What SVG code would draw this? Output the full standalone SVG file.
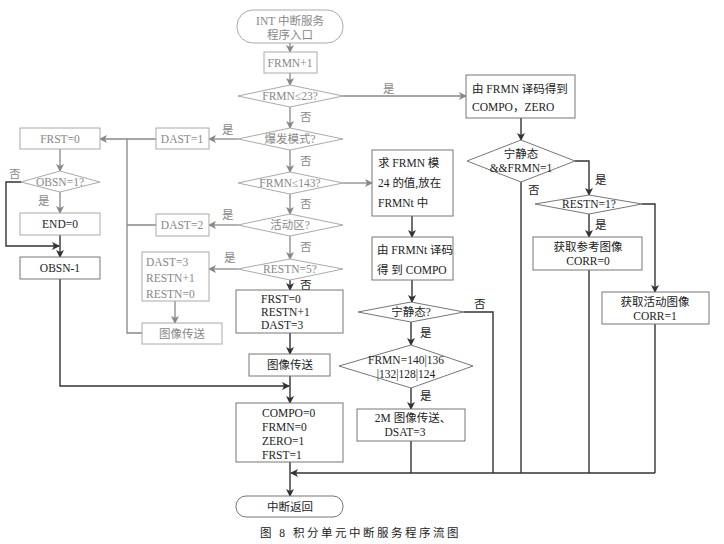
<svg xmlns="http://www.w3.org/2000/svg" width="724" height="544" viewBox="0 0 724 544">
<defs>
<marker id="ah" markerWidth="8" markerHeight="8" refX="7" refY="4" orient="auto" markerUnits="userSpaceOnUse"><path d="M0,0 L8,4 L0,8 L2,4 Z" fill="#333"/></marker>
<marker id="ahg" markerWidth="8" markerHeight="8" refX="7" refY="4" orient="auto" markerUnits="userSpaceOnUse"><path d="M0,0 L8,4 L0,8 L2,4 Z" fill="#888"/></marker>
<style>
.b{fill:#fff;stroke:#777;stroke-width:1}
.bg{fill:#fff;stroke:#aaa;stroke-width:1}
.t{font-family:"Liberation Serif","Noto Sans CJK SC",serif;font-size:11.5px;fill:#222}
.tg{font-family:"Liberation Serif","Noto Sans CJK SC",serif;font-size:11.5px;fill:#888}
.m{text-anchor:middle}
.l{fill:none;stroke:#333;stroke-width:1.4}
.lg{fill:none;stroke:#888;stroke-width:1.3}
.a{marker-end:url(#ah)}
.ag{marker-end:url(#ahg)}
</style>
</defs>
<rect width="724" height="544" fill="#fff"/>

<g id="connectors">
<path class="lg ag" d="M290,43 V52"/>
<path class="lg ag" d="M290,73 V85"/>
<path class="lg ag" d="M343,96 H466"/>
<path class="lg ag" d="M290,107 V128"/>
<path class="lg ag" d="M238,139 H209"/>
<path class="lg ag" d="M156,139 H100"/>
<path class="lg" d="M127,139 V333 H142 M127,225 H156"/>
<path class="lg ag" d="M290,150 V172"/>
<path class="lg ag" d="M343,183 H372"/>
<path class="lg ag" d="M290,194 V214"/>
<path class="lg ag" d="M238,225 H209"/>
<path class="lg ag" d="M290,236 V259"/>
<path class="lg ag" d="M238,269 H209"/>
<path class="lg ag" d="M175,301 V323"/>
<path class="l a" d="M290,280 V290"/>
<path class="l a" d="M290,333 V354"/>
<path class="l a" d="M290,376 V403"/>
<path class="l a" d="M290,462 V496"/>
<path class="lg ag" d="M60,149 V171"/>
<path class="lg ag" d="M60,192 V213"/>
<path class="l a" d="M21,182 H6 V246 H59"/>
<path class="l a" d="M60,235 V257"/>
<path class="l a" d="M60,279 V386 H289"/>
<path class="l a" d="M412,216 V237"/>
<path class="l a" d="M412,280 V302"/>
<path class="l" d="M464,312 H493 V473"/>
<path class="l a" d="M411,322 V345"/>
<path class="l a" d="M411,388 V409"/>
<path class="l" d="M411,441 V473"/>
<path class="l a" d="M521,118 V140"/>
<path class="l a" d="M575,161 H589 V195"/>
<path class="l" d="M521,182 V473"/>
<path class="l a" d="M642,204 H655 V292"/>
<path class="l a" d="M589,214 V237"/>
<path class="l" d="M589,270 V473"/>
<path class="l" d="M655,324 V473"/>
<path class="l a" d="M655,473 H291"/>
<text class="tg" x="383" y="93">是</text>
<text class="tg" x="300" y="121">否</text>
<text class="tg" x="222" y="134">是</text>
<text class="tg" x="300" y="165">否</text>
<text class="tg" x="300" y="208">否</text>
<text class="tg" x="222" y="219">是</text>
<text class="tg" x="300" y="251">否</text>
<text class="tg" x="224" y="262">是</text>
<text class="t" x="300" y="289">否</text>
<text class="tg" x="9" y="178">否</text>
<text class="tg" x="38" y="205">是</text>
<text class="t" x="474" y="308">否</text>
<text class="t" x="420" y="337">是</text>
<text class="t" x="420" y="400">是</text>
<text class="t" x="528" y="194">否</text>
<text class="t" x="595" y="184">是</text>
<text class="t" x="595" y="229">是</text>
</g>

<g id="start">
<rect class="bg" x="237" y="10" width="106" height="33" rx="16"/>
<text class="tg m" x="290" y="25">INT 中断服务</text>
<text class="tg m" x="290" y="39">程序入口</text>
</g>
<g id="frmn_inc">
<rect class="bg" x="264" y="52" width="53" height="21"/>
<text class="tg m" x="290" y="67">FRMN+1</text>
</g>
<g id="d_frmn23">
<polygon class="bg" points="238,96 290,85 343,96 290,107"/>
<text class="tg m" x="290" y="100">FRMN≤23?</text>
</g>
<g id="d_burst">
<polygon class="bg" points="238,139 290,128 343,139 290,150"/>
<text class="tg m" x="290" y="143">爆发模式?</text>
</g>
<g id="dast1">
<rect class="bg" x="156" y="128" width="53" height="21"/>
<text class="tg m" x="182" y="143">DAST=1</text>
</g>
<g id="frst0_left">
<rect class="bg" x="20" y="128" width="80" height="21"/>
<text class="tg m" x="60" y="143">FRST=0</text>
</g>
<g id="d_obsn">
<polygon class="bg" points="21,182 60,171 100,182 60,192"/>
<text class="tg m" x="60" y="186">OBSN=1?</text>
</g>
<g id="end0">
<rect class="bg" x="20" y="213" width="80" height="22"/>
<text class="t m" x="60" y="228">END=0</text>
</g>
<g id="obsn_dec">
<rect class="b" x="20" y="257" width="80" height="22"/>
<text class="t m" x="60" y="272">OBSN-1</text>
</g>
<g id="d_frmn143">
<polygon class="bg" points="238,183 290,172 343,183 290,194"/>
<text class="tg m" x="290" y="187">FRMN≤143?</text>
</g>
<g id="d_active">
<polygon class="bg" points="238,225 290,214 343,225 290,236"/>
<text class="tg m" x="290" y="229">活动区?</text>
</g>
<g id="dast2">
<rect class="bg" x="156" y="214" width="53" height="22"/>
<text class="tg m" x="182" y="229">DAST=2</text>
</g>
<g id="d_restn5">
<polygon class="bg" points="238,269 290,259 343,269 290,280"/>
<text class="tg m" x="290" y="273">RESTN=5?</text>
</g>
<g id="dast3_box">
<rect class="bg" x="142" y="252" width="67" height="49"/>
<text class="tg" x="146" y="266">DAST=3</text>
<text class="tg" x="146" y="282">RESTN+1</text>
<text class="tg" x="146" y="298">RESTN=0</text>
</g>
<g id="img_send_left">
<rect class="bg" x="142" y="323" width="80" height="21"/>
<text class="tg m" x="182" y="338">图像传送</text>
</g>
<g id="frst_restn_box">
<rect class="b" x="236" y="290" width="107" height="43"/>
<text class="t" x="261" y="303">FRST=0</text>
<text class="t" x="261" y="316">RESTN+1</text>
<text class="t" x="261" y="329">DAST=3</text>
</g>
<g id="img_send">
<rect class="b" x="249" y="354" width="81" height="22"/>
<text class="t m" x="290" y="369">图像传送</text>
</g>
<g id="reset_box">
<rect class="b" x="236" y="403" width="107" height="59"/>
<text class="t" x="262" y="417">COMPO=0</text>
<text class="t" x="262" y="431">FRMN=0</text>
<text class="t" x="262" y="445">ZERO=1</text>
<text class="t" x="262" y="459">FRST=1</text>
</g>
<g id="return">
<rect class="b" x="236" y="496" width="107" height="21" rx="10"/>
<text class="t m" x="290" y="511">中断返回</text>
</g>
<g id="mod24">
<rect class="b" x="372" y="150" width="81" height="66"/>
<text class="t" x="378" y="167">求 FRMN 模</text>
<text class="t" x="378" y="187">24 的值,放在</text>
<text class="t" x="378" y="207">FRMNt 中</text>
</g>
<g id="decode_t">
<rect class="b" x="372" y="237" width="81" height="43"/>
<text class="t" x="377" y="254">由 FRMNt 译码</text>
<text class="t" x="377" y="274">得 到 COMPO</text>
</g>
<g id="d_quiet">
<polygon class="b" points="358,312 411,302 464,312 411,322"/>
<text class="t m" x="411" y="316">宁静态?</text>
</g>
<g id="d_frmn140">
<polygon class="b" points="339,366 411,345 473,366 411,388"/>
<text class="t m" x="406" y="364">FRMN=140|136</text>
<text class="t m" x="406" y="378">|132|128|124</text>
</g>
<g id="send2m">
<rect class="b" x="357" y="409" width="108" height="32"/>
<text class="t m" x="413" y="422">2M 图像传送、</text>
<text class="t m" x="405" y="436">DSAT=3</text>
</g>
<g id="decode">
<rect class="b" x="466" y="75" width="109" height="43"/>
<text class="t" x="472" y="93">由 FRMN 译码得到</text>
<text class="t" x="472" y="111">COMPO，ZERO</text>
</g>
<g id="d_quiet_frmn1">
<polygon class="b" points="467,161 521,140 575,161 521,182"/>
<text class="t m" x="521" y="158">宁静态</text>
<text class="t m" x="521" y="172">&amp;&amp;FRMN=1</text>
</g>
<g id="d_restn1">
<polygon class="b" points="535,204 589,195 642,204 589,214"/>
<text class="t m" x="589" y="208">RESTN=1?</text>
</g>
<g id="get_ref">
<rect class="b" x="533" y="237" width="109" height="33"/>
<text class="t m" x="588" y="251">获取参考图像</text>
<text class="t m" x="588" y="265">CORR=0</text>
</g>
<g id="get_active">
<rect class="b" x="602" y="292" width="107" height="32"/>
<text class="t m" x="655" y="306">获取活动图像</text>
<text class="t m" x="655" y="320">CORR=1</text>
</g>
<text class="t" x="260" y="537" letter-spacing="2.5">图 8 积分单元中断服务程序流图</text>
</svg>
